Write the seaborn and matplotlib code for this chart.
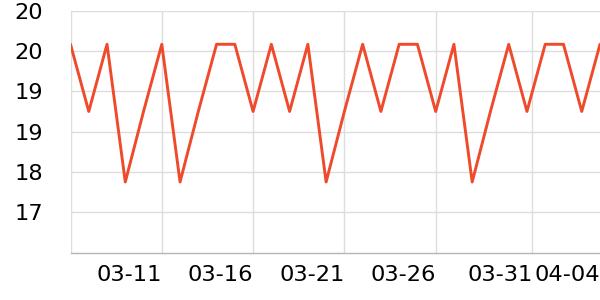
import matplotlib
matplotlib.use("Agg")
import matplotlib.pyplot as plt
import seaborn as sns
import pandas as pd
from matplotlib.ticker import FixedLocator, FuncFormatter

dates = ["03-06", "03-07", "03-08", "03-09", "03-10", "03-11", "03-12", "03-13",
         "03-14", "03-15", "03-16", "03-17", "03-18", "03-19", "03-20", "03-21",
         "03-22", "03-23", "03-24", "03-25", "03-26", "03-27", "03-28", "03-29",
         "03-30", "03-31", "04-01", "04-02", "04-03", "04-04"]
values = [19.9, 18.9, 19.9, 17.85, 18.9, 19.9, 17.85, 18.9,
          19.9, 19.9, 18.9, 19.9, 18.9, 19.9, 17.85, 18.9,
          19.9, 18.9, 19.9, 19.9, 18.9, 19.9, 17.85, 18.9,
          19.9, 18.9, 19.9, 19.9, 18.9, 19.9]
y_ticks = [20.4, 19.8, 19.2, 18.6, 18.0, 17.4]
y_min, y_max = 16.8, 20.4
x_tick_labels = ["03-11", "03-16", "03-21", "03-26", "03-31", "04-04"]

df = pd.DataFrame({"day": range(len(dates)), "date": dates, "value": values})

sns.set_theme(style="white")
plt.rcParams["font.family"] = ["DejaVu Sans"]

fig = plt.figure(figsize=(6, 3), dpi=100)
ax = fig.add_axes([70.5 / 600, 47.5 / 300, (600 - 70.5) / 600, (252.5 - 10.7) / 300])

sns.lineplot(data=df, x="day", y="value", ax=ax, color="#ee4a2b", linewidth=2.1)

ax.set_xlim(0, len(dates) - 1)
ax.set_ylim(y_min, y_max)

ax.yaxis.set_major_locator(FixedLocator(y_ticks))
ax.yaxis.set_major_formatter(FuncFormatter(lambda v, p: f"{v:.0f}"))

x_pos = [dates.index(d) for d in x_tick_labels]
x_pos[4] = x_pos[4] + 0.3
ax.set_xticks(x_pos)
ax.set_xticklabels(x_tick_labels, ha="right")

grid_c = "#dddddd"
ax.grid(True, axis="y", color=grid_c, linewidth=1)
for xp in [0] + x_pos[:-1]:
    ax.axvline(xp, color=grid_c, linewidth=1, zorder=0)

for s in ["top", "right", "left"]:
    ax.spines[s].set_visible(False)
ax.spines["bottom"].set_color("#b5b5b5")
ax.spines["bottom"].set_linewidth(1)

ax.tick_params(axis="y", length=0, pad=19.5, labelsize=16.2, colors="black")
ax.tick_params(axis="x", length=1.8, width=1, color="#b5b5b5", pad=7, labelsize=16.2, labelcolor="black")
ax.set_xlabel("")
ax.set_ylabel("")

fig.savefig("out.png", dpi=100)
